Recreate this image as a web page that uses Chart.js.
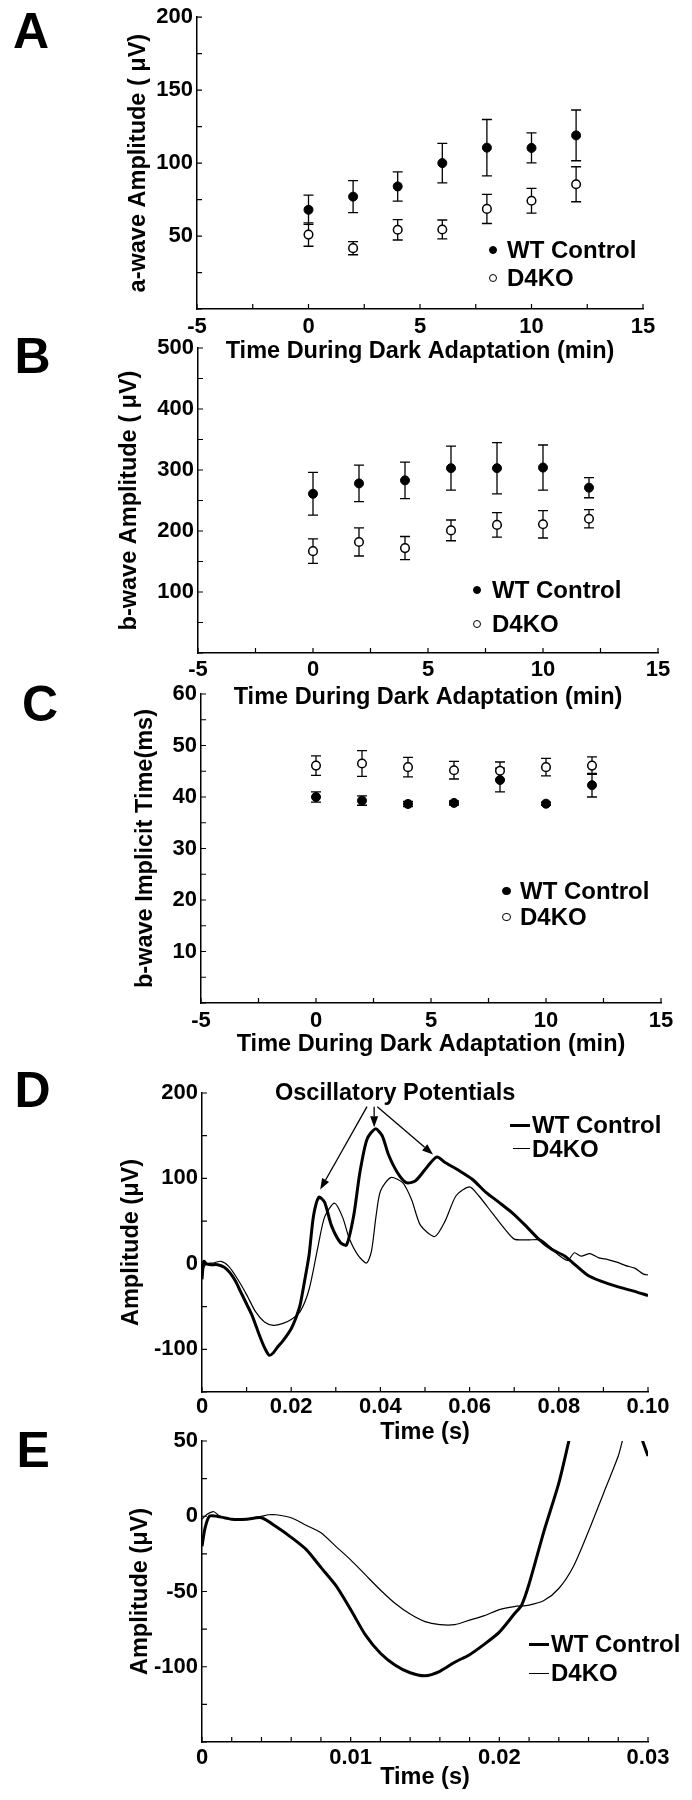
<!DOCTYPE html>
<html>
<head>
<meta charset="utf-8">
<script src="https://cdn.jsdelivr.net/npm/chart.js@4"></script>
<style>
  html, body { margin: 0; padding: 0; background: #fff; }
  #page { position: relative; width: 692px; height: 1800px; overflow: hidden; background: #fff;
          font-family: 'Liberation Sans', Arial, Helvetica, sans-serif; font-weight: bold; color: #000; }
  #page canvas { position: absolute; left: 0; }
  .lbl { position: absolute; white-space: nowrap; line-height: 1; }
  .mk { position: absolute; box-sizing: border-box; }
</style>
</head>
<body>
<div id="page"></div>
<script>
// ---------------- DATA ----------------
const timeMin = [0, 2, 4, 6, 8, 10, 12];

// A: a-wave amplitude (uV)
const aWtMean = [68, 77, 84, 100, 110.6, 110.4, 119];
const aWtSem  = [10, 11, 10, 13.5, 19.3, 10.3, 17.4];
const aKoMean = [51, 41.7, 54.3, 54.5, 68.6, 74.2, 85.5];
const aKoSem  = [8, 4.5, 7, 6.5, 10, 8.5, 12];

// B: b-wave amplitude (uV)
const bWtMean = [261, 278, 283, 303, 303, 304, 271];
const bWtSem  = [35, 30, 30, 36, 42, 37, 16.5];
const bKoMean = [167, 182, 172, 201, 210, 211, 220];
const bKoSem  = [20, 23, 19, 17, 20, 22.5, 15];

// C: b-wave implicit time (ms)
const cWtMean = [40, 39.3, 38.65, 38.85, 43.3, 38.7, 42.3];
const cWtSem  = [1, 0.9, 0.5, 0.4, 2.3, 0.3, 2.3];
const cKoMean = [46.1, 46.5, 45.8, 45.2, 45.1, 45.8, 46.1];
const cKoSem  = [1.9, 2.5, 1.9, 1.7, 1.7, 1.7, 1.7];

// D: full ERG traces
const dWtTime = [0, 0.0004, 0.001, 0.002, 0.0035, 0.005, 0.0062, 0.0075, 0.0087, 0.01, 0.0112, 0.0122, 0.0132, 0.0142, 0.0151, 0.016, 0.017, 0.018, 0.019, 0.02, 0.021, 0.022, 0.023, 0.024, 0.025, 0.0262, 0.0275, 0.029, 0.031, 0.0324, 0.034, 0.0354, 0.037, 0.0389, 0.0404, 0.0418, 0.0438, 0.0458, 0.0478, 0.0498, 0.0512, 0.0527, 0.0547, 0.0577, 0.0606, 0.0636, 0.0666, 0.0695, 0.0725, 0.0755, 0.0784, 0.0814, 0.0834, 0.0864, 0.0893, 0.0933, 0.0962, 0.1];
const dWtAmp  = [-18, 3, 0, -1, -1, -4, -10, -20, -33, -47, -60, -74, -88, -100, -107, -104, -97, -91, -84, -76, -64, -48, -20, 10, 56, 78, 72, 45, 25, 22, 56, 107, 146, 158, 150, 128, 107, 95, 97, 109, 118, 125, 118, 109, 99, 84, 72, 60, 45, 29, 17, 9, 0, -13, -20, -27, -31, -37];
const dKoTime = [0, 0.001, 0.0025, 0.0043, 0.006, 0.008, 0.01, 0.012, 0.014, 0.016, 0.018, 0.02, 0.022, 0.024, 0.026, 0.0275, 0.0297, 0.0315, 0.033, 0.035, 0.0369, 0.038, 0.039, 0.04, 0.0423, 0.045, 0.047, 0.049, 0.0522, 0.0545, 0.057, 0.06, 0.062, 0.065, 0.068, 0.07, 0.073, 0.076, 0.078, 0.08, 0.082, 0.0835, 0.085, 0.087, 0.089, 0.091, 0.093, 0.095, 0.097, 0.099, 0.1];
const dKoAmp  = [-8, 0, 1, 3, -3, -18, -36, -56, -68, -72, -70, -65, -56, -30, 20, 55, 71, 55, 30, 10, 1, 15, 55, 85, 101, 95, 75, 45, 32, 50, 80, 90, 80, 60, 40, 29, 28, 28, 20, 10, 4, 13, 9, 12, 7, 5, 2, -2, -5, -12, -13];

// D annotation: arrows to the oscillatory potentials (data coordinates)
const opArrowFrom = [[0.0370, 184], [0.0386, 184], [0.0393, 184]];
const opArrowTo   = [[0.0265, 87], [0.0386, 160], [0.0518, 128]];

// E: expanded early part (a-wave)
const eWtTime = [0, 0.0002, 0.0005, 0.001, 0.002, 0.003, 0.004, 0.005, 0.006, 0.007, 0.008, 0.009, 0.01, 0.011, 0.012, 0.013, 0.014, 0.015, 0.016, 0.017, 0.018, 0.019, 0.02, 0.021, 0.0215, 0.022, 0.023, 0.024, 0.0247, 0.027, 0.0296, 0.03];
const eWtAmp  = [-20, -8, 0, 0, -2, -2, -1, -7, -14, -22, -34, -46, -62, -79, -91, -99, -104, -106, -103, -97, -92, -85, -77, -65, -59, -45, -10, 22, 51, null, 51, 40];
const eKoTime = [0, 0.0003, 0.0008, 0.0012, 0.002, 0.003, 0.004, 0.0045, 0.005, 0.006, 0.007, 0.008, 0.009, 0.01, 0.011, 0.012, 0.013, 0.014, 0.015, 0.016, 0.017, 0.018, 0.019, 0.02, 0.021, 0.022, 0.023, 0.024, 0.025, 0.026, 0.027, 0.028, 0.0283];
const eKoAmp  = [-2, 1, 3, 0, -2, -2, 0, 1, 1, -1, -6, -11, -20, -29, -39, -49, -58, -65, -70, -72, -72, -69, -66, -62, -60, -59, -56, -48, -33, -10, 15, 40, 51];

// Tick values and labels
const minTicks      = [-5, -2.5, 0, 2.5, 5, 7.5, 10, 12.5, 15];
const minLabelVals  = [-5, 0, 5, 10, 15];
const minLabelText  = ['-5', '0', '5', '10', '15'];
const aYTicks = [0, 25, 50, 75, 100, 125, 150, 175, 200];
const aYLabelVals = [50, 100, 150, 200];
const bYTicks = [0, 50, 100, 150, 200, 250, 300, 350, 400, 450, 500];
const bYLabelVals = [100, 200, 300, 400, 500];
const cYTicks = [0, 5, 10, 15, 20, 25, 30, 35, 40, 45, 50, 55, 60];
const cYLabelVals = [10, 20, 30, 40, 50, 60];
const dXTicks = [0, 0.01, 0.02, 0.03, 0.04, 0.05, 0.06, 0.07, 0.08, 0.09, 0.1];
const dXLabelVals = [0, 0.02, 0.04, 0.06, 0.08, 0.1];
const dXLabelText = ['0', '0.02', '0.04', '0.06', '0.08', '0.10'];
const dYTicks = [-150, -100, -50, 0, 50, 100, 150, 200];
const dYLabelVals = [-100, 0, 100, 200];
const eXTicks = [0, 0.002, 0.004, 0.006, 0.008, 0.01, 0.012, 0.014, 0.016, 0.018, 0.02, 0.022, 0.024, 0.026, 0.028, 0.03];
const eXLabelVals = [0, 0.01, 0.02, 0.03];
const eXLabelText = ['0', '0.01', '0.02', '0.03'];
const eYTicks = [-150, -125, -100, -75, -50, -25, 0, 25, 50];
const eYLabelVals = [-100, -50, 0, 50];

// ---------------- RENDERING ----------------
const FONT = "'Liberation Sans', Arial, Helvetica, sans-serif";
Chart.defaults.font.family = FONT;
Chart.defaults.color = '#000';
const TITLE_SIZE = 23.5, TICK_SIZE = 22;
const TITLE_LH = TITLE_SIZE * 1.2, TICK_LH = TICK_SIZE * 1.2;
const page = document.getElementById('page');

function labeler(vals, texts) {
  return v => {
    const i = vals.findIndex(u => Math.abs(u - v) < 1e-9);
    return i < 0 ? '' : (texts ? texts[i] : String(vals[i]));
  };
}
function pts(xs, ys) { return xs.map((x, i) => ({x: x, y: ys[i]})); }

const inwardTicks = {
  id: 'inwardTicks',
  afterDraw(chart) {
    const {ctx, chartArea: a, scales: {x, y}} = chart;
    ctx.save();
    ctx.strokeStyle = '#000';
    ctx.lineWidth = 1.2;
    ctx.beginPath();
    x.ticks.forEach(t => { const p = x.getPixelForValue(t.value); ctx.moveTo(p, a.bottom); ctx.lineTo(p, a.bottom - 5); });
    y.ticks.forEach(t => { const p = y.getPixelForValue(t.value); ctx.moveTo(a.left, p); ctx.lineTo(a.left + 5, p); });
    ctx.stroke();
    ctx.restore();
  }
};

const errorBars = {
  id: 'errorBars',
  beforeDatasetsDraw(chart) {
    const {ctx, scales: {y}} = chart;
    ctx.save();
    ctx.strokeStyle = '#000';
    ctx.lineWidth = 1.3;
    chart.data.datasets.forEach((ds, i) => {
      if (!ds.errorBars) return;
      const meta = chart.getDatasetMeta(i);
      meta.data.forEach((el, j) => {
        const m = ds.data[j].y, e = ds.errorBars[j];
        const y1 = y.getPixelForValue(m + e), y2 = y.getPixelForValue(m - e);
        const x = el.x;
        ctx.beginPath();
        ctx.moveTo(x, y1); ctx.lineTo(x, y2);
        ctx.moveTo(x - 5, y1); ctx.lineTo(x + 5, y1);
        ctx.moveTo(x - 5, y2); ctx.lineTo(x + 5, y2);
        ctx.stroke();
      });
    });
    ctx.restore();
  }
};

const opArrows = {
  id: 'opArrows',
  afterDatasetsDraw(chart) {
    const {ctx, scales: {x, y}} = chart;
    ctx.save();
    ctx.strokeStyle = '#000';
    ctx.fillStyle = '#000';
    ctx.lineWidth = 1.3;
    opArrowFrom.forEach((f, i) => {
      const t = opArrowTo[i];
      const x1 = x.getPixelForValue(f[0]), y1 = y.getPixelForValue(f[1]);
      const x2 = x.getPixelForValue(t[0]), y2 = y.getPixelForValue(t[1]);
      const ang = Math.atan2(y2 - y1, x2 - x1);
      const L = 11, W = 4;
      const bx = x2 - L * Math.cos(ang), by = y2 - L * Math.sin(ang);
      ctx.beginPath(); ctx.moveTo(x1, y1); ctx.lineTo(bx, by); ctx.stroke();
      ctx.beginPath();
      ctx.moveTo(x2, y2);
      ctx.lineTo(bx + W * Math.sin(ang), by - W * Math.cos(ang));
      ctx.lineTo(bx - W * Math.sin(ang), by + W * Math.cos(ang));
      ctx.closePath(); ctx.fill();
    });
    ctx.restore();
  }
};

function buildPanel(g, xc, yc, datasets, extraPlugins) {
  const H = Math.ceil(g.xTitleC + TITLE_LH / 2 - g.top) + 1;
  const cv = document.createElement('canvas');
  cv.width = 692; cv.height = H;
  cv.style.width = '692px'; cv.style.height = H + 'px';
  cv.style.top = g.top + 'px';
  page.appendChild(cv);
  const titleBottomPad = H - (g.xTitleC - g.top) - TITLE_LH / 2;
  new Chart(cv, {
    type: 'scatter',
    data: {datasets: datasets},
    options: {
      responsive: false, animation: false, events: [],
      devicePixelRatio: 1,
      layout: {padding: {left: 0, right: 692 - g.R, top: g.T - g.top, bottom: 0}},
      plugins: {legend: {display: false}, tooltip: {enabled: false}},
      scales: {
        x: {
          type: 'linear', position: 'bottom', min: xc.min, max: xc.max,
          afterBuildTicks: s => { s.ticks = xc.ticks.map(v => ({value: v})); },
          afterFit: s => { s.height = H - (g.B - g.top); },
          grid: {display: false, drawTicks: false},
          border: {display: true, color: '#000', width: 1.5},
          ticks: {autoSkip: false, maxRotation: 0, minRotation: 0, color: '#000',
                  padding: g.xLabelC - g.B - TICK_LH / 2,
                  font: {family: FONT, size: TICK_SIZE, weight: 'bold'},
                  callback: labeler(xc.labelVals, xc.labelText)},
          title: {display: true, text: xc.title, color: '#000',
                  font: {family: FONT, size: TITLE_SIZE, weight: 'bold'},
                  padding: {top: 0, bottom: titleBottomPad}}
        },
        y: {
          type: 'linear', position: 'left', min: yc.min, max: yc.max,
          afterBuildTicks: s => { s.ticks = yc.ticks.map(v => ({value: v})); },
          afterFit: s => { s.width = g.L; },
          grid: {display: false, drawTicks: false},
          border: {display: true, color: '#000', width: 1.5},
          ticks: {autoSkip: false, color: '#000', padding: 4,
                  font: {family: FONT, size: TICK_SIZE, weight: 'bold'},
                  callback: labeler(yc.labelVals, yc.labelText)},
          title: {display: true, text: yc.title, color: '#000',
                  font: {family: FONT, size: TITLE_SIZE, weight: 'bold'},
                  padding: {top: g.yTitleC - TITLE_LH / 2, bottom: 0}}
        }
      }
    },
    plugins: [inwardTicks].concat(extraPlugins || [])
  });
}

function wtSet(label, ys, errs) {
  return {label: label, data: pts(timeMin, ys), errorBars: errs,
          pointRadius: 4.5, pointHoverRadius: 4.5, pointBackgroundColor: '#000',
          pointBorderColor: '#000', pointBorderWidth: 1};
}
function koSet(label, ys, errs) {
  return {label: label, data: pts(timeMin, ys), errorBars: errs,
          pointRadius: 4.3, pointHoverRadius: 4.3, pointBackgroundColor: '#fff',
          pointBorderColor: '#000', pointBorderWidth: 1.5};
}
function traceSet(label, xs, ys, w) {
  return {label: label, data: pts(xs, ys), showLine: true, pointRadius: 0, pointHoverRadius: 0,
          borderColor: '#000', borderWidth: w, tension: 0.25, spanGaps: false, fill: false};
}

const minAxis = {min: -5, max: 15, ticks: minTicks, labelVals: minLabelVals, labelText: minLabelText,
                 title: 'Time During Dark Adaptation (min)'};

// Panel A
buildPanel({top: 0, L: 197, R: 643, T: 15, B: 309, xLabelC: 327, xTitleC: 352, yTitleC: 139},
  minAxis,
  {min: 0, max: 200, ticks: aYTicks, labelVals: aYLabelVals, title: 'a-wave Amplitude ( μV)'},
  [wtSet('WT Control', aWtMean, aWtSem), koSet('D4KO', aKoMean, aKoSem)], [errorBars]);

// Panel B
buildPanel({top: 330, L: 198, R: 658, T: 348, B: 653, xLabelC: 670, xTitleC: 698, yTitleC: 130},
  minAxis,
  {min: 0, max: 500, ticks: bYTicks, labelVals: bYLabelVals, title: 'b-wave Amplitude ( μV)'},
  [wtSet('WT Control', bWtMean, bWtSem), koSet('D4KO', bKoMean, bKoSem)], [errorBars]);

// Panel C
buildPanel({top: 675, L: 201, R: 661, T: 694, B: 1003, xLabelC: 1021, xTitleC: 1045, yTitleC: 146},
  minAxis,
  {min: 0, max: 60, ticks: cYTicks, labelVals: cYLabelVals, title: 'b-wave Implicit Time(ms)'},
  [wtSet('WT Control', cWtMean, cWtSem), koSet('D4KO', cKoMean, cKoSem)], [errorBars]);

// Panel D
buildPanel({top: 1075, L: 202, R: 648, T: 1093, B: 1392, xLabelC: 1407, xTitleC: 1433, yTitleC: 132},
  {min: 0, max: 0.1, ticks: dXTicks, labelVals: dXLabelVals, labelText: dXLabelText, title: 'Time (s)'},
  {min: -150, max: 200, ticks: dYTicks, labelVals: dYLabelVals, title: 'Amplitude (μV)'},
  [traceSet('WT Control', dWtTime, dWtAmp, 3), traceSet('D4KO', dKoTime, dKoAmp, 1.2)], [opArrows]);

// Panel E
buildPanel({top: 1420, L: 202, R: 648, T: 1441, B: 1742, xLabelC: 1758, xTitleC: 1778, yTitleC: 141},
  {min: 0, max: 0.03, ticks: eXTicks, labelVals: eXLabelVals, labelText: eXLabelText, title: 'Time (s)'},
  {min: -150, max: 50, ticks: eYTicks, labelVals: eYLabelVals, title: 'Amplitude (μV)'},
  [traceSet('WT Control', eWtTime, eWtAmp, 3), traceSet('D4KO', eKoTime, eKoAmp, 1.2)], []);

// ---------------- TEXT OVERLAYS ----------------
function addText(text, left, capCenterY, size) {
  const d = document.createElement('div');
  d.className = 'lbl';
  d.textContent = text;
  d.style.left = left + 'px';
  d.style.top = (capCenterY - 0.4885 * size) + 'px';
  d.style.fontSize = size + 'px';
  page.appendChild(d);
}
function addDot(cx, cy, r, filled) {
  const d = document.createElement('div');
  d.className = 'mk';
  d.style.left = (cx - r) + 'px'; d.style.top = (cy - r) + 'px';
  d.style.width = (2 * r) + 'px'; d.style.height = (2 * r) + 'px';
  d.style.borderRadius = '50%';
  d.style.background = filled ? '#000' : '#fff';
  d.style.border = '1.5px solid #000';
  page.appendChild(d);
}
function addDash(x1, x2, y, w) {
  const d = document.createElement('div');
  d.className = 'mk';
  d.style.left = x1 + 'px'; d.style.top = (y - w / 2) + 'px';
  d.style.width = (x2 - x1) + 'px'; d.style.height = w + 'px';
  d.style.background = '#000';
  page.appendChild(d);
}

// panel letters (baseline-based)
[['A', 13, 48], ['B', 14.5, 373], ['C', 22, 721], ['D', 14.5, 1107], ['E', 16.5, 1467]].forEach(p => {
  addText(p[0], p[1], p[2] - 0.358 * 50, 50);
});

const LEG = 24;
// A legend
addDot(493, 250, 4.3, true);  addText('WT Control', 507, 250, LEG);
addDot(493, 278, 4.3, false); addText('D4KO', 507, 278, LEG);
// B legend
addDot(477, 590, 4.3, true);  addText('WT Control', 492, 590, LEG);
addDot(477, 624, 4.3, false); addText('D4KO', 492, 624, LEG);
// C legend
addDot(506.5, 891, 4.3, true);  addText('WT Control', 520, 891, LEG);
addDot(506.5, 917, 4.3, false); addText('D4KO', 520, 917, LEG);
// D legend
addDash(510, 530, 1125, 3);  addText('WT Control', 532, 1125, LEG);
addDash(513, 530, 1148, 1);  addText('D4KO', 532, 1149, LEG);
// E legend
addDash(529, 549, 1644, 3);  addText('WT Control', 551, 1644, LEG);
addDash(529, 549, 1673, 1);  addText('D4KO', 551, 1673, LEG);

// D annotation text
addText('Oscillatory Potentials', 275, 1092, TITLE_SIZE);
</script>
</body>
</html>
